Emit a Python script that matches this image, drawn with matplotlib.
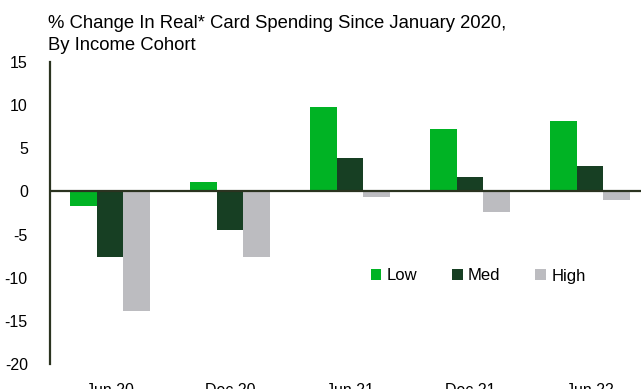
import matplotlib
matplotlib.use("Agg")
import matplotlib.pyplot as plt
import numpy as np

categories = ["Jun 20", "Dec 20", "Jun 21", "Dec 21", "Jun 22"]
low = [-1.65, 1.15, 9.75, 7.25, 8.15]
med = [-7.65, -4.45, 3.9, 1.7, 2.9]
high = [-13.9, -7.55, -0.7, -2.4, -1.0]
series_names = ["Low", "Med", "High"]
colors = ["#00B324", "#173F23", "#BCBCC0"]
yticks = [15, 10, 5, 0, -5, -10, -15, -20]

plt.rcParams['font.family'] = ['Liberation Sans', 'DejaVu Sans']

W, H = 641, 389
fig = plt.figure(figsize=(W / 100, H / 100), dpi=100)
ax = fig.add_axes([50 / W, 1 - 364 / H, 600 / W, (364 - 62) / H])

x = np.arange(len(categories))
w = 0.222
for k, (vals, name, c) in enumerate(zip([low, med, high], series_names, colors)):
    ax.bar(x + (k - 1) * w, vals, width=w, color=c, label=name, zorder=2)

ax.axhline(0, color="#2B3320", linewidth=1.6, zorder=3)
ax.set_xlim(-0.5, len(categories) - 0.5)
ax.set_ylim(-20, 15)
ax.set_yticks(yticks)
ax.set_yticklabels([str(t) for t in yticks], fontsize=11.5)
ax.set_xticks(x)
ax.set_xticklabels(categories, fontsize=11.5)
ax.tick_params(axis="both", length=0, colors="black")
ax.tick_params(axis="y", pad=16)
ax.tick_params(axis="x", pad=14)
for s in ["top", "right", "bottom"]:
    ax.spines[s].set_visible(False)
ax.spines["left"].set_color("#2B3320")
ax.spines["left"].set_linewidth(1.6)

leg = ax.legend(loc="center", bbox_to_anchor=(478 / W, 1 - 276 / H),
                bbox_transform=fig.transFigure, ncol=3, frameon=False,
                fontsize=12, handlelength=0.65, handleheight=0.65,
                handletextpad=0.3, columnspacing=2.1)

fig.text(48 / W, 1 - 28 / H, "% Change In Real* Card Spending Since January 2020,",
         fontsize=13.3, va="baseline", ha="left")
fig.text(48 / W, 1 - 50 / H, "By Income Cohort",
         fontsize=13.3, va="baseline", ha="left")

fig.savefig("out.png", dpi=100)
